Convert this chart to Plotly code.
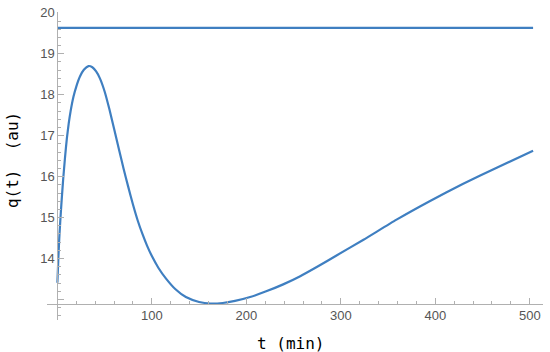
import plotly.graph_objects as go

# values
t = [0, 1, 2, 3, 4.5, 6, 8, 10, 12, 14, 17, 20, 24, 28, 33, 37, 41, 45, 50,
     55, 60, 65, 70, 75, 80, 85, 90, 95, 100, 107, 115, 125, 136, 150, 162,
     175, 188, 204, 221, 239, 257, 275, 295, 324, 359, 394, 429, 465, 503.5]
q = [13.41, 14.0, 14.5, 14.9, 15.42, 15.9, 16.45, 16.93, 17.30, 17.60,
     17.95, 18.20, 18.45, 18.61, 18.70, 18.67, 18.57, 18.40, 18.08, 17.65,
     17.17, 16.68, 16.20, 15.75, 15.32, 14.93, 14.60, 14.31, 14.06, 13.77,
     13.51, 13.25, 13.06, 12.94, 12.90, 12.915, 12.965, 13.06, 13.20, 13.37,
     13.57, 13.80, 14.07, 14.46, 14.95, 15.40, 15.82, 16.22, 16.63]
t_flat = [0, 503.5]
q_flat = [19.63, 19.63]

x_ticks = [100, 200, 300, 400, 500]
y_ticks = [13, 14, 15, 16, 17, 18, 19, 20]
y_labels = ["", "14", "15", "16", "17", "18", "19", "20"]

blue = "#3f7fc1"
axis_col = "#b0b0b0"

xr = [-11, 514]
yr = [12.5, 20.02]
x_origin = 0
y_origin = 12.9

fig = go.Figure()
fig.add_trace(go.Scatter(x=t_flat, y=q_flat, mode="lines",
                         line=dict(color=blue, width=2.2)))
fig.add_trace(go.Scatter(x=t, y=q, mode="lines",
                         line=dict(color=blue, width=2.2, shape="spline", smoothing=0.5)))

fig.update_layout(
    width=550, height=352,
    margin=dict(l=47, r=7, t=12, b=32),
    plot_bgcolor="white", paper_bgcolor="white",
    showlegend=False,
    font=dict(family="Liberation Sans", size=13, color="#555555"),
)

fig.update_xaxes(
    range=xr, anchor="free",
    position=(y_origin - yr[0]) / (yr[1] - yr[0]),
    showgrid=False, zeroline=False,
    showline=True, linecolor=axis_col, linewidth=1,
    tickvals=x_ticks, ticks="inside", ticklen=6, tickcolor=axis_col,
    minor=dict(ticks="inside", ticklen=3, dtick=20, tick0=0, tickcolor=axis_col,
               showgrid=False),
    automargin=False,
)
fig.update_yaxes(
    range=yr, anchor="free",
    position=(x_origin - xr[0]) / (xr[1] - xr[0]),
    showgrid=False, zeroline=False,
    showline=True, linecolor=axis_col, linewidth=1,
    tickvals=y_ticks, ticktext=y_labels,
    ticks="inside", ticklen=6, tickcolor=axis_col,
    minor=dict(ticks="inside", ticklen=3, dtick=0.2, tick0=12, tickcolor=axis_col,
               showgrid=False),
    automargin=False,
)

# axis labels
fig.add_annotation(text="t (min)", x=0.49, y=-0.075, xref="paper", yref="paper",
                   xanchor="center", yanchor="middle", showarrow=False,
                   font=dict(family="DejaVu Sans Mono", size=16, color="black"))
fig.add_annotation(text="q(t)  (au)", x=-0.068, y=0.52, xref="paper", yref="paper",
                   xanchor="center", yanchor="middle",
                   textangle=-90, showarrow=False,
                   font=dict(family="DejaVu Sans Mono", size=16, color="black"))

fig.write_html("out.html", config={"displayModeBar": False},
               post_script="document.body.style.margin='0';")
